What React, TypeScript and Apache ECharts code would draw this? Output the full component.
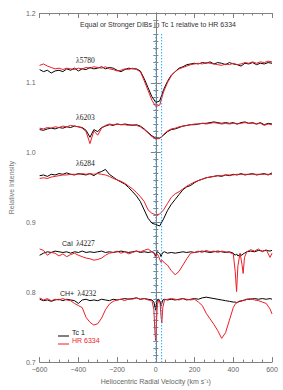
import React, { useEffect, useRef } from "react";
import * as echarts from "echarts";

// Velocity grid for the DIB spectra (km/s)
const VEL_DIB = [
  -600, -580, -560, -540, -520, -500, -480, -460, -440, -420, -400, -380, -360, -340, -320, -300,
  -280, -260, -240, -220, -200, -180, -160, -140, -120, -100, -80, -60, -40, -20, 0, 20, 40, 60,
  80, 100, 120, 140, 160, 180, 200, 220, 240, 260, 280, 300, 320, 340, 360, 380, 400, 420, 440,
  460, 480, 500, 520, 540, 560, 580, 600,
];

const TC_5780 = [
  1.119, 1.116, 1.118, 1.114, 1.117, 1.118, 1.116, 1.12, 1.118, 1.121, 1.117, 1.12, 1.119, 1.122,
  1.12, 1.121, 1.123, 1.12, 1.122, 1.121, 1.118, 1.116, 1.119, 1.121, 1.12, 1.12, 1.117, 1.106,
  1.093, 1.08, 1.072, 1.074, 1.09, 1.102, 1.111, 1.116, 1.121, 1.123, 1.126, 1.127, 1.128, 1.127,
  1.129, 1.128, 1.13, 1.127, 1.129, 1.128, 1.126, 1.129, 1.127, 1.126, 1.124, 1.128, 1.127, 1.129,
  1.126, 1.128, 1.127, 1.129, 1.128,
];
const HR_5780 = [
  1.125, 1.127, 1.124, 1.122, 1.12, 1.121, 1.119, 1.121, 1.12, 1.119, 1.121, 1.12, 1.122, 1.121,
  1.123, 1.122, 1.121, 1.123, 1.12, 1.119, 1.117, 1.118, 1.12, 1.119, 1.121, 1.119, 1.116, 1.103,
  1.089, 1.075, 1.066, 1.068, 1.087, 1.1, 1.11, 1.116, 1.12, 1.122, 1.124, 1.126, 1.127, 1.128,
  1.127, 1.129, 1.128, 1.127, 1.126, 1.125, 1.127, 1.126, 1.128, 1.126, 1.127, 1.129, 1.128, 1.13,
  1.128, 1.13, 1.129, 1.131, 1.13,
];

const TC_6203 = [
  1.033, 1.032, 1.034, 1.035, 1.034, 1.036, 1.035, 1.037, 1.036, 1.038, 1.037, 1.036, 1.032, 1.022,
  1.033, 1.03, 1.036, 1.038, 1.04, 1.039, 1.041, 1.04, 1.041, 1.04, 1.039, 1.04, 1.038, 1.034,
  1.029, 1.024, 1.021, 1.021, 1.025, 1.03, 1.033, 1.034, 1.036, 1.038, 1.039, 1.04, 1.04, 1.041,
  1.042, 1.042, 1.043, 1.044, 1.043, 1.042, 1.043, 1.042, 1.043, 1.041, 1.043, 1.044, 1.042, 1.043,
  1.041, 1.043, 1.04, 1.042, 1.041,
];
const HR_6203 = [
  1.035, 1.034, 1.036, 1.035, 1.037, 1.036, 1.038, 1.037, 1.039, 1.038, 1.037, 1.035, 1.03, 1.013,
  1.031, 1.025, 1.035, 1.039, 1.041, 1.04, 1.041, 1.04, 1.04, 1.039, 1.04, 1.039, 1.037, 1.033,
  1.028, 1.023, 1.02, 1.02, 1.026, 1.031, 1.034, 1.035, 1.037, 1.038, 1.039, 1.04, 1.041, 1.041,
  1.042, 1.041, 1.042, 1.043, 1.042, 1.041, 1.042, 1.041, 1.042, 1.041, 1.042, 1.043, 1.042, 1.042,
  1.041, 1.042, 1.039, 1.041, 1.04,
];

const TC_6284 = [
  0.967, 0.968, 0.966, 0.969, 0.968, 0.97, 0.969, 0.971, 0.969, 0.968, 0.97, 0.969, 0.968, 0.97,
  0.967, 0.971, 0.973, 0.976, 0.969, 0.965, 0.961, 0.958, 0.955, 0.95, 0.944, 0.938, 0.93, 0.918,
  0.906, 0.899, 0.897, 0.895, 0.905, 0.917, 0.926, 0.933, 0.94, 0.947, 0.951, 0.953, 0.957, 0.96,
  0.962, 0.964, 0.965, 0.966, 0.967, 0.966, 0.968, 0.967, 0.969, 0.968, 0.97, 0.968, 0.969, 0.97,
  0.968, 0.969, 0.97, 0.968, 0.971,
];
const HR_6284 = [
  0.963, 0.964, 0.963, 0.965, 0.966, 0.967, 0.968, 0.968, 0.969, 0.969, 0.969, 0.97, 0.969, 0.97,
  0.969, 0.97, 0.969, 0.968, 0.966, 0.963, 0.961, 0.959, 0.956, 0.952, 0.948, 0.943, 0.937, 0.93,
  0.918, 0.913, 0.911, 0.912, 0.918, 0.927, 0.936, 0.941, 0.944, 0.948, 0.952, 0.955, 0.958, 0.96,
  0.962, 0.964, 0.965, 0.966, 0.967, 0.967, 0.968, 0.968, 0.968, 0.969, 0.969, 0.969, 0.969, 0.969,
  0.969, 0.969, 0.969, 0.969, 0.969,
];

// Velocity grid for the atomic / molecular lines (finer near sharp features)
const VEL_ATOM = [
  -600, -580, -560, -540, -520, -500, -480, -460, -440, -420, -400, -380, -360, -340, -320, -300,
  -280, -260, -240, -220, -200, -180, -160, -140, -120, -100, -80, -60, -40,
  -20, -10, -5, -1, 3, 8, 15, 22, 27, 31, 36, 45, 60,
  80, 100, 120, 140, 160, 180, 200, 220, 240, 260, 280, 300, 320, 340, 360, 380, 400,
  410, 417, 424, 435, 445, 451, 458, 470,
  490, 510, 530, 550, 570, 590, 600,
];

const TC_4227 = [
  0.853, 0.856, 0.858, 0.857, 0.859, 0.858, 0.857, 0.858, 0.856, 0.858, 0.857, 0.859, 0.857, 0.858,
  0.857, 0.858, 0.859, 0.857, 0.858, 0.857, 0.858, 0.859, 0.858, 0.857, 0.858, 0.859, 0.857, 0.858,
  0.857,
  0.858, 0.857, 0.855, 0.852, 0.855, 0.858, 0.857, 0.855, 0.851, 0.854, 0.857, 0.858, 0.856,
  0.857, 0.856, 0.857, 0.858, 0.857, 0.858, 0.857, 0.858, 0.859, 0.858, 0.857, 0.858, 0.859, 0.858,
  0.857, 0.858, 0.856,
  0.853, 0.855, 0.852, 0.854, 0.853, 0.855, 0.856, 0.858,
  0.859, 0.858, 0.86, 0.859, 0.86, 0.859, 0.86,
];
const HR_4227 = [
  0.862, 0.86, 0.853, 0.857, 0.856, 0.852, 0.855, 0.851, 0.854, 0.856, 0.853, 0.851, 0.849, 0.848,
  0.846, 0.847, 0.849, 0.853, 0.856, 0.857, 0.859, 0.856, 0.858, 0.855, 0.857, 0.859, 0.858, 0.86,
  0.862,
  0.858, 0.856, 0.853, 0.849, 0.853, 0.855, 0.851, 0.846, 0.843, 0.846, 0.845, 0.842, 0.839,
  0.831, 0.825, 0.83, 0.839, 0.848, 0.856, 0.857, 0.859, 0.857, 0.86, 0.858, 0.859, 0.857, 0.859,
  0.858, 0.857, 0.855,
  0.83, 0.801, 0.838, 0.856, 0.84, 0.827, 0.85, 0.858,
  0.861, 0.859, 0.862, 0.858, 0.861, 0.85, 0.856,
];

const TC_4232 = [
  0.79, 0.788, 0.789, 0.787, 0.789, 0.79, 0.788, 0.79, 0.789, 0.788, 0.784, 0.789, 0.79, 0.788,
  0.789, 0.788, 0.79, 0.789, 0.788, 0.79, 0.789, 0.79, 0.791, 0.79, 0.791, 0.792, 0.79, 0.791,
  0.79,
  0.789, 0.786, 0.78, 0.775, 0.783, 0.789, 0.79, 0.787, 0.78, 0.784, 0.789, 0.79, 0.789,
  0.79, 0.789, 0.79, 0.791, 0.789, 0.79, 0.791, 0.79, 0.792, 0.793, 0.792, 0.791, 0.79, 0.789,
  0.788, 0.787, 0.786,
  0.786, 0.785, 0.786, 0.787, 0.788, 0.788, 0.789, 0.79,
  0.79, 0.791, 0.79, 0.791, 0.79, 0.791, 0.79,
];
const HR_4232 = [
  0.792, 0.789, 0.791, 0.788, 0.79, 0.789, 0.791, 0.789, 0.788, 0.784, 0.781, 0.778, 0.764, 0.757,
  0.753, 0.755, 0.763, 0.775, 0.783, 0.787, 0.789, 0.79, 0.788, 0.791, 0.79, 0.792, 0.79, 0.791,
  0.789,
  0.788, 0.775, 0.745, 0.731, 0.755, 0.782, 0.789, 0.785, 0.765, 0.756, 0.778, 0.789, 0.79,
  0.791, 0.79, 0.789, 0.791, 0.79, 0.789, 0.79, 0.786, 0.781, 0.77, 0.762, 0.754, 0.745, 0.734,
  0.742, 0.76, 0.778,
  0.783, 0.785, 0.786, 0.788, 0.787, 0.789, 0.788, 0.79,
  0.791, 0.789, 0.788, 0.786, 0.784, 0.776, 0.769,
];

// Marked velocities (cyan dotted lines) and the intensity range they span
const MARK_VELS = [0, 30];
const MARK_RANGE = [1.17, 0.7];

const Y_TICKS = { min: 0.7, max: 1.2, interval: 0.1 };
const X_TICKS = { min: -600, max: 600, interval: 200 };

const BLACK = "#000000";
const RED = "#ee1c25";
const CYAN = "#2aa9f5";
const AXIS = "#808080";
const FONT = "Liberation Sans";
const SERIF = "Liberation Serif";

const pair = (xs: number[], ys: number[]) => xs.map((x, i) => [x, ys[i]]);

export default function App() {
  const ref = useRef<HTMLDivElement>(null);

  useEffect(() => {
    document.body.style.margin = "0";
    if (!ref.current) return;
    const chart = echarts.init(ref.current, undefined, { renderer: "svg" });

    const lineSeries = (name: string, data: number[][], color: string, extra: any = {}) => ({
      name,
      type: "line",
      data,
      showSymbol: false,
      symbol: "none",
      silent: true,
      lineStyle: { color, width: 1 },
      itemStyle: { color },
      z: color === RED ? 3 : 2,
      ...extra,
    });

    const tickStyle = { color: AXIS, width: 1 };
    const baseX = {
      type: "value",
      min: X_TICKS.min,
      max: X_TICKS.max,
      interval: X_TICKS.interval,
      splitLine: { show: false },
      axisLine: { show: true, lineStyle: { color: AXIS, width: 1 } },
      axisTick: { show: true, inside: true, length: 5, lineStyle: tickStyle },
      minorTick: { show: true, splitNumber: 4, length: 2.5, lineStyle: tickStyle },
    };
    const baseY = {
      type: "value",
      min: Y_TICKS.min,
      max: Y_TICKS.max,
      interval: Y_TICKS.interval,
      splitLine: { show: false },
      axisLine: { show: true, lineStyle: { color: AXIS, width: 1 } },
      axisTick: { show: true, inside: true, length: 5, lineStyle: tickStyle },
      minorTick: { show: true, splitNumber: 10, length: 2.5, lineStyle: tickStyle },
    };

    const markSeries = MARK_VELS.map((v) => ({
      name: "mark " + v,
      type: "line",
      data: MARK_RANGE.map((y) => [v, y]),
      showSymbol: false,
      symbol: "none",
      silent: true,
      z: 4,
      lineStyle: { color: CYAN, width: 1, type: [1.5, 1.5] },
    }));

    const option: any = {
      animation: false,
      backgroundColor: "#ffffff",
      grid: { left: 39, right: 11, top: 13, bottom: 26, containLabel: false },
      xAxis: [
        {
          ...baseX,
          position: "bottom",
          name: "Heliocentric Radial Velocity (km s⁻¹)",
          nameLocation: "middle",
          nameGap: 15,
          nameTextStyle: { fontFamily: FONT, fontSize: 7, color: "#666" },
          axisLabel: {
            show: true,
            margin: 4,
            fontFamily: FONT,
            fontSize: 7,
            color: "#666",
            formatter: (v: number) => (v < 0 ? "−" + Math.abs(v) : String(v)),
          },
        },
        { ...baseX, position: "top", axisLabel: { show: false } },
      ],
      yAxis: [
        {
          ...baseY,
          position: "left",
          name: "Relative Intensity",
          nameLocation: "middle",
          nameGap: 17,
          nameTextStyle: { fontFamily: FONT, fontSize: 7, color: "#777" },
          axisLabel: {
            show: true,
            margin: 4,
            fontFamily: FONT,
            fontSize: 7,
            color: "#666",
            formatter: (v: number) => v.toFixed(1),
          },
        },
        { ...baseY, position: "right", axisLabel: { show: false } },
      ],
      series: [
        lineSeries("Tc 1", pair(VEL_DIB, TC_5780), BLACK),
        lineSeries("HR 6334", pair(VEL_DIB, HR_5780), RED),
        lineSeries("Tc 1", pair(VEL_DIB, TC_6203), BLACK),
        lineSeries("HR 6334", pair(VEL_DIB, HR_6203), RED),
        lineSeries("Tc 1", pair(VEL_DIB, TC_6284), BLACK),
        lineSeries("HR 6334", pair(VEL_DIB, HR_6284), RED),
        lineSeries("Tc 1", pair(VEL_ATOM, TC_4227), BLACK),
        lineSeries("HR 6334", pair(VEL_ATOM, HR_4227), RED),
        lineSeries("Tc 1", pair(VEL_ATOM, TC_4232), BLACK),
        lineSeries("HR 6334", pair(VEL_ATOM, HR_4232), RED),
        ...markSeries,
      ],
      graphic: [
        {
          type: "text",
          x: 158,
          y: 24,
          style: {
            text: "Equal or Stronger DIBs in Tc 1 relative to HR 6334",
            fontFamily: FONT,
            fontSize: 7,
            fill: "#333",
            align: "center",
            verticalAlign: "middle",
          },
        },
        {
          type: "text",
          x: 76,
          y: 60,
          style: { text: "λ5780", fontFamily: SERIF, fontSize: 7.5, fill: "#222", verticalAlign: "middle" },
        },
        {
          type: "text",
          x: 76,
          y: 117,
          style: { text: "λ6203", fontFamily: SERIF, fontSize: 7.5, fill: "#222", verticalAlign: "middle" },
        },
        {
          type: "text",
          x: 76,
          y: 163,
          style: { text: "λ6284", fontFamily: SERIF, fontSize: 7.5, fill: "#222", verticalAlign: "middle" },
        },
        {
          type: "text",
          x: 62,
          y: 243,
          style: {
            text: "{a|CaI} {b|λ4227}",
            verticalAlign: "middle",
            rich: {
              a: { fontFamily: FONT, fontSize: 7, fill: "#222" },
              b: { fontFamily: SERIF, fontSize: 7.5, fill: "#222" },
            },
          },
        },
        {
          type: "text",
          x: 60,
          y: 293,
          style: {
            text: "{a|CH+} {b|λ4232}",
            verticalAlign: "middle",
            rich: {
              a: { fontFamily: FONT, fontSize: 7, fill: "#222" },
              b: { fontFamily: SERIF, fontSize: 7.5, fill: "#222" },
            },
          },
        },
        {
          type: "line",
          shape: { x1: 58, y1: 336, x2: 69, y2: 336 },
          style: { stroke: BLACK, lineWidth: 1 },
        },
        {
          type: "text",
          x: 72,
          y: 332,
          style: { text: "Tc 1", fontFamily: FONT, fontSize: 7, fill: "#111", verticalAlign: "middle" },
        },
        {
          type: "line",
          shape: { x1: 58, y1: 344, x2: 69, y2: 344 },
          style: { stroke: RED, lineWidth: 1 },
        },
        {
          type: "text",
          x: 72,
          y: 340,
          style: { text: "HR 6334", fontFamily: FONT, fontSize: 7, fill: RED, verticalAlign: "middle" },
        },
      ],
    };

    chart.setOption(option);
    return () => chart.dispose();
  }, []);

  return <div ref={ref} style={{ width: 283, height: 390 }} />;
}
